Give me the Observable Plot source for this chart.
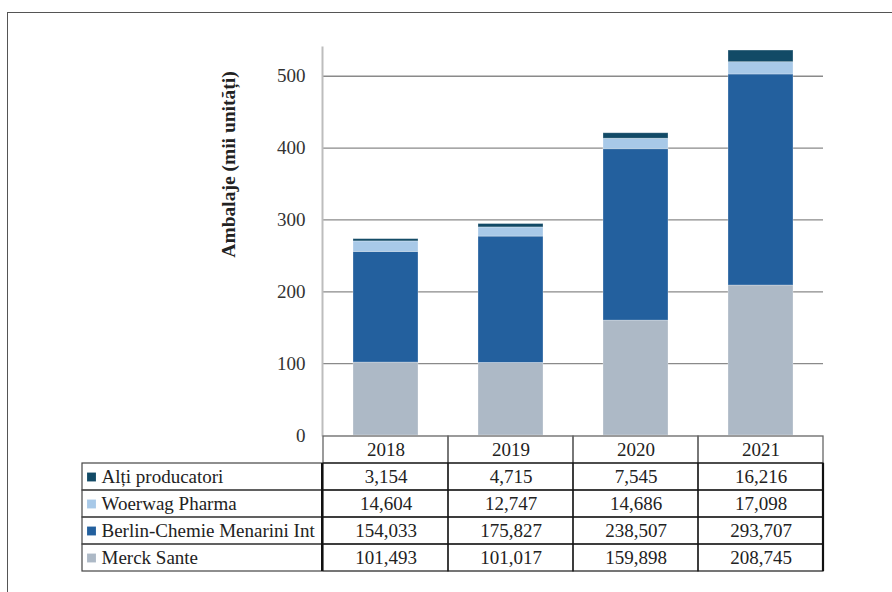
<!DOCTYPE html>
<html><head><meta charset="utf-8">
<script src="https://cdn.jsdelivr.net/npm/d3@7"></script>
<script src="https://cdn.jsdelivr.net/npm/@observablehq/plot@0.6"></script>
<style>
body{margin:0;background:#fff;}
#wrap{position:relative;width:892px;height:592px;overflow:hidden;font-family:"Liberation Serif","Times New Roman",serif;}
#frame{position:absolute;left:7px;top:12px;width:900px;height:600px;border-left:1.5px solid #555;border-top:1.5px solid #555;}
#chart{position:absolute;left:0;top:40px;}
#table{position:absolute;left:0;top:430px;}
svg{overflow:visible;}
</style></head><body>
<div id="wrap"><div id="frame"></div><div id="chart"></div><div id="table"></div></div>
<script>
const years = ["2018", "2019", "2020", "2021"];
const series = ["Merck Sante", "Berlin-Chemie Menarini Int", "Woerwag Pharma", "Alți producatori"];
const merckSante = [101493, 101017, 159898, 208745];
const berlinChemie = [154033, 175827, 238507, 293707];
const woerwag = [14604, 12747, 14686, 17098];
const altiProducatori = [3154, 4715, 7545, 16216];
const colors = ["#adb9c6", "#23609e", "#a8c9e8", "#124a66"];
const yTicks = [0, 100, 200, 300, 400, 500];
const yTitle = "Ambalaje (mii unități)";

const valuesBySeries = [merckSante, berlinChemie, woerwag, altiProducatori];
const data = [];
series.forEach((s, i) => years.forEach((y, j) => data.push({series: s, year: y, value: valuesBySeries[i][j]})));
const tableOrder = series.slice().reverse();
const rows = ["header", ...tableOrder];
const fmt = d3.format(",");
const FF = "Liberation Serif";
const FS = 19;
const font = {fontFamily: FF, fontSize: FS + "px", color: "#222", background: "transparent"};

const chart = Plot.plot({
  width: 892, height: 400, marginTop: 7, marginBottom: 5, marginLeft: 322, marginRight: 69,
  style: font,
  x: {domain: years, paddingInner: 0.48, paddingOuter: 0.24, axis: null},
  y: {domain: [0, 540], axis: null},
  color: {domain: series, range: colors},
  marks: [
    Plot.gridY(yTicks.filter(d => d > 0), {stroke: "#8a8a8a", strokeOpacity: 1, strokeWidth: 1.3}),
    Plot.axisY(yTicks, {tickSize: 0, tickPadding: 17, label: null, fill: "#333", fontSize: FS, fontFamily: FF}),
    Plot.barY(data, {x: "year", y: d => d.value / 1000, fill: "series", order: series, stroke: "#ffffff", strokeOpacity: 0.35, strokeWidth: 0.8}),
    Plot.frame({anchor: "left", stroke: "#bdbdbd", strokeWidth: 2}),
    Plot.text([yTitle], {frameAnchor: "left", rotate: -90, textAnchor: "middle", dx: -94, dy: -77, text: d => d, fontWeight: "bold", fontSize: 19.5, fontFamily: FF, fill: "#222"})
  ]
});
document.getElementById("chart").appendChild(chart);

const tableData = data.slice();
const table = Plot.plot({
  width: 892, height: 150, marginTop: 6, marginBottom: 9, marginLeft: 322, marginRight: 69,
  style: font,
  x: {domain: years, padding: 0, axis: null},
  y: {domain: rows, padding: 0, axis: null},
  color: {domain: series, range: colors},
  marks: [
    Plot.cell(years, {x: d => d, y: () => "header", fill: "none", stroke: "#666", strokeWidth: 1.3, inset: 0}),
    Plot.cell(tableData, {x: "year", y: "series", fill: "none", stroke: "#1a1a1a", strokeWidth: 1.2, inset: 0}),
    (index, scales, values, dims) => {
      const g = d3.create("svg:g");
      const bw = scales.y(rows[2]) - scales.y(rows[1]);
      const x0 = 82, x1 = dims.marginLeft;
      tableOrder.forEach(s => {
        const y0 = scales.y(s);
        g.append("rect").attr("x", x0).attr("y", y0).attr("width", x1 - x0).attr("height", bw)
          .attr("fill", "none").attr("stroke", "#444").attr("stroke-width", 1.2);
      });
      const yTop = scales.y(rows[1]);
      const yBot = scales.y(rows[rows.length - 1]) + bw;
      const xr = dims.width - dims.marginRight;
      g.append("line").attr("x1", x1).attr("x2", x1).attr("y1", yTop).attr("y2", yBot).attr("stroke", "#111").attr("stroke-width", 2);
      g.append("line").attr("x1", xr).attr("x2", xr).attr("y1", yTop).attr("y2", yBot).attr("stroke", "#111").attr("stroke-width", 2.2);
      return g.node();
    },
    Plot.text(years, {x: d => d, y: () => "header", text: d => d, fill: "#222", fontSize: FS, fontFamily: FF}),
    Plot.text(tableData, {x: "year", y: "series", text: d => fmt(d.value), fill: "#222", fontSize: FS, fontFamily: FF}),
    Plot.dot(tableOrder, {y: d => d, frameAnchor: "left", dx: -231, symbol: "square", fill: d => d, r: 5, stroke: null}),
    Plot.text(tableOrder, {y: d => d, frameAnchor: "left", dx: -221, textAnchor: "start", text: d => d, fill: "#222", fontSize: FS, fontFamily: FF})
  ]
});
document.getElementById("table").appendChild(table);
</script>
</body></html>
